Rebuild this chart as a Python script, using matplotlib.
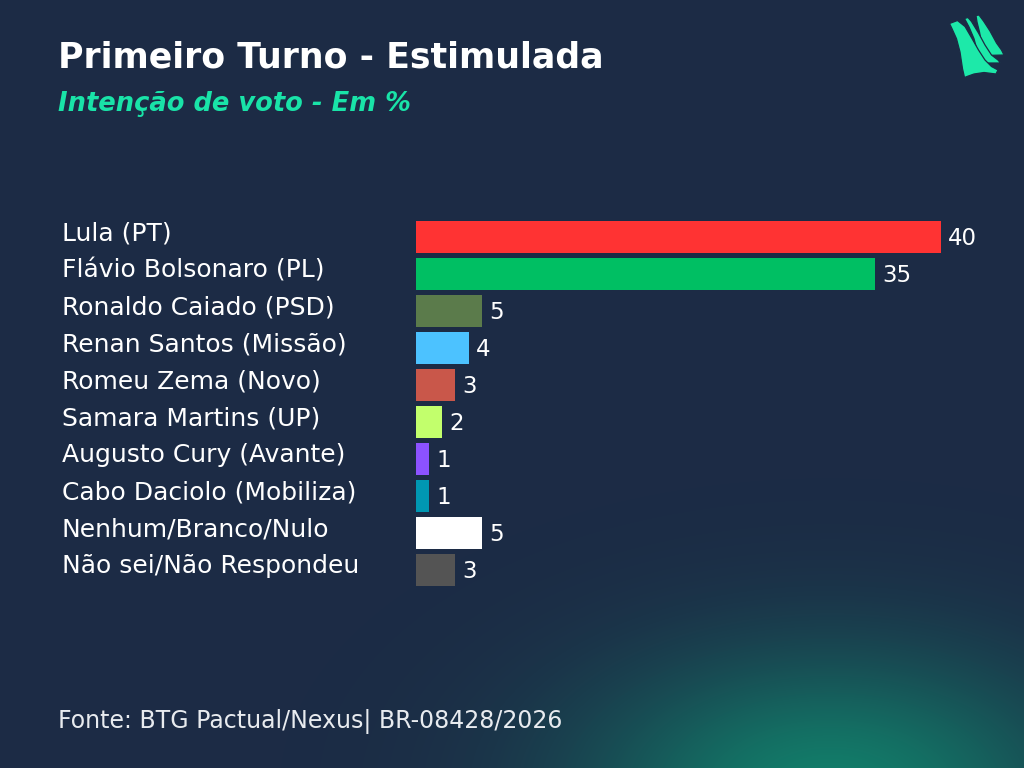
import numpy as np
import matplotlib
matplotlib.use("Agg")
import matplotlib.pyplot as plt
import matplotlib.transforms as mtransforms
from matplotlib.patches import Polygon

categories = ["Lula (PT)", "Flávio Bolsonaro (PL)", "Ronaldo Caiado (PSD)",
              "Renan Santos (Missão)", "Romeu Zema (Novo)", "Samara Martins (UP)",
              "Augusto Cury (Avante)", "Cabo Daciolo (Mobiliza)",
              "Nenhum/Branco/Nulo", "Não sei/Não Respondeu"]
values = [40, 35, 5, 4, 3, 2, 1, 1, 5, 3]
colors = ["#ff3333", "#00bf63", "#5b7b4b", "#4cc2ff", "#c9574a", "#c2ff6c",
          "#8c52ff", "#0097b2", "#ffffff", "#545454"]

title = "Primeiro Turno - Estimulada"
subtitle = "Intenção de voto - Em %"
source = "Fonte: BTG Pactual/Nexus| BR-08428/2026"

FONT = "DejaVu Sans"
BG = "#1c2b45"
W, H = 1024, 768
fig = plt.figure(figsize=(W / 100, H / 100), dpi=100, facecolor=BG)

# background with green glow (bottom)
bg = fig.add_axes([0, 0, 1, 1])
bg.set_xlim(0, W); bg.set_ylim(H, 0); bg.axis("off")
yy, xx = np.mgrid[0:H, 0:W]
d = ((xx - 830) / 300.0) ** 2 + ((yy - 790) / 170.0) ** 2
alpha = 0.62 * np.exp(-d * 1.5)
img = np.zeros((H, W, 4))
img[..., 0] = 0x0c / 255; img[..., 1] = 0xb0 / 255; img[..., 2] = 0x80 / 255
img[..., 3] = alpha
bg.imshow(img, extent=(0, W, H, 0), aspect="auto", zorder=0)

# logo (three sails)
LG = "#1de9a9"
sails = [
    [(976.0, 15.5), (979.0, 15), (983.5, 21), (990, 31), (996.5, 43),
     (1001.5, 50), (1004, 55), (984.5, 55.5), (982, 45.3), (979.5, 32),
     (977, 22)],
    [(964.5, 18.5), (968, 17.5), (971.5, 21.5), (978.5, 33), (985, 45),
     (991.5, 55), (998, 60), (1000.5, 63), (979.5, 63), (977.5, 52),
     (974, 38.7), (969, 27)],
    [(949.5, 23.5), (957.5, 20.5), (965, 26.5), (972, 38.5), (978.5, 50),
     (985, 60), (991.5, 66.5), (998, 70), (996, 74), (984, 72.5),
     (974, 74), (967, 76.5), (964.5, 77.5), (962.5, 68.7), (960, 52),
     (956.5, 38.7), (952, 28.7)],
]
for i, s in enumerate(sails):
    bg.add_patch(Polygon(s, closed=True, facecolor=LG, edgecolor=BG, lw=0.9,
                         joinstyle="round", zorder=2 + i))

# titles
fig.text(58 / W, 1 - 57 / H, title, color="white", fontsize=25, fontweight="bold",
         family=FONT, va="center", ha="left")
fig.text(58 / W, 1 - 104 / H, subtitle, color="#19e3a8", fontsize=18.5, fontweight="bold",
         style="italic", family=FONT, va="center", ha="left")
fig.text(58 / W, 1 - 722 / H, source, color="#e8ebef", fontsize=17,
         family=FONT, va="center", ha="left")

# bar axes
left_px, unit = 416, 13.125
xmax = 45
y0, step = 237, 37.0
top_px = y0 - step / 2
bot_px = y0 + step * (len(categories) - 1) + step / 2
ax = fig.add_axes([left_px / W, 1 - bot_px / H, xmax * unit / W, (bot_px - top_px) / H])
ax.set_facecolor("none")
ax.set_xlim(0, xmax)
ax.set_ylim(len(categories) - 0.5, -0.5)
ax.axis("off")
ypos = np.arange(len(categories))
ax.barh(ypos, values, height=0.88, color=colors, zorder=2)
for y, v in zip(ypos, values):
    ax.text(v + 0.55, y + 0.05, str(v), color="white", fontsize=16.5,
            family=FONT, va="center", ha="left")
tr = mtransforms.blended_transform_factory(fig.transFigure, ax.transData)
for y, c in zip(ypos, categories):
    ax.text(62 / W, y - 0.1, c, transform=tr, color="white", fontsize=18,
            family=FONT, va="center", ha="left")

fig.savefig("out.png", dpi=100, facecolor=BG)
